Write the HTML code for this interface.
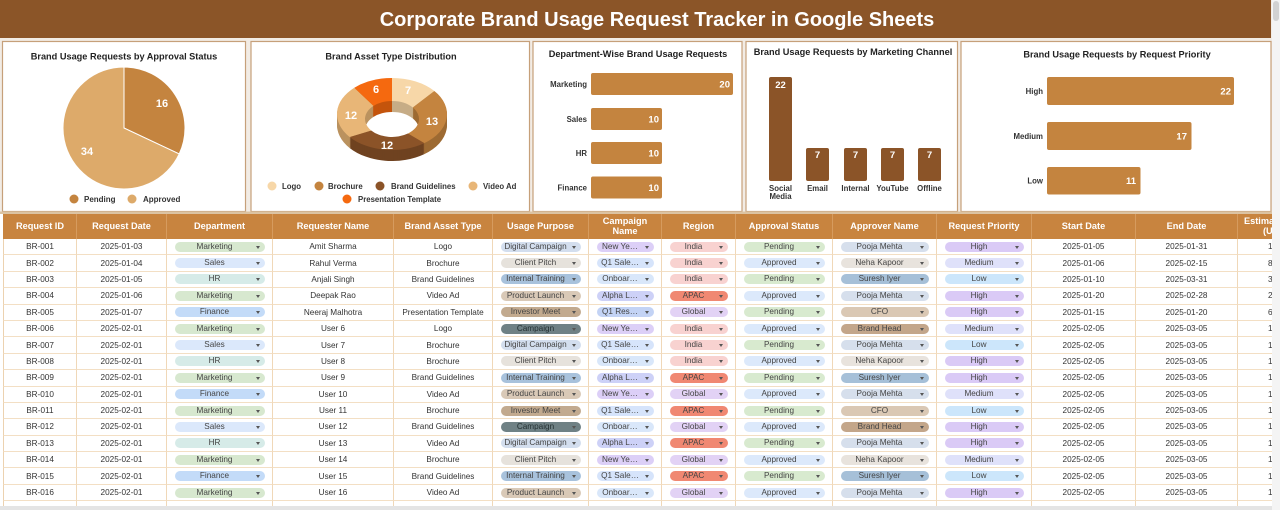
<!DOCTYPE html>
<html><head><meta charset="utf-8">
<style>
body{margin:0;width:1280px;height:510px;overflow:hidden;background:#fff;font-family:"Liberation Sans",Arial,sans-serif;position:relative}
svg.top{position:absolute;left:0;top:0}
.tbl{position:absolute;left:3px;top:214px;width:1269px;height:292px;overflow:hidden;background:#fff}
.r{display:flex;height:16.4px}
.r>div{flex:none;box-sizing:border-box;border-right:1px solid #f0d8b8;border-bottom:1px solid #f3dfc4;display:flex;align-items:center;justify-content:center;font-size:8.2px;color:#333;white-space:nowrap;overflow:hidden}
.r>div:nth-child(1){width:74px;border-left:1px solid #ecd2b0}
.r>div:nth-child(2){width:90px}
.r>div:nth-child(3){width:106px}
.r>div:nth-child(4){width:121px}
.r>div:nth-child(5){width:99px}
.r>div:nth-child(6){width:96px}
.r>div:nth-child(7){width:73px}
.r>div:nth-child(8){width:74px}
.r>div:nth-child(9){width:97px}
.r>div:nth-child(10){width:104px}
.r>div:nth-child(11){width:95px}
.r>div:nth-child(12){width:104px}
.r>div:nth-child(13){width:102px}
.r>div:nth-child(14){width:100px}
.r.h{height:25px;background:#C8843F}
.r.h>div{color:#fff;font-weight:bold;font-size:9.2px;border-right:1px solid #d69b5e;border-bottom:none;text-align:center;line-height:9.6px;border-left-color:#C8843F}
.r>div.e{justify-content:flex-start;padding-left:30px}
.r.h>div.eh{justify-content:flex-start;padding-left:6px;text-align:left}
.p{display:block;position:relative;width:calc(100% - 15px);height:10px;border-radius:5px;line-height:10px;text-align:center;padding-right:10px;box-sizing:border-box;color:#444;font-size:8.2px;overflow:hidden}
.p::after{content:"";position:absolute;right:5px;top:4px;border-left:2.5px solid transparent;border-right:2.5px solid transparent;border-top:3px solid #555}
.mk{background:#d7e8cf}.sa{background:#dbe8fb}.hr{background:#d6ebe8}.fi{background:#c3dbf8}
.dc{background:#d3deee}.cp{background:#e6e2dc}.it{background:#a8c2dc}.pl{background:#d9c9b7}.im{background:#c2aa8f}.ca{background:#6f8185;color:#233032}
.ny{background:#dccff7}.qs{background:#d6e4fb}.on{background:#d9e7fa}.al{background:#cdd1f7}.qr{background:#c3d3f5}
.in{background:#f8d2d0}.ap{background:#f08872}.gl{background:#e2d2f5}
.pe{background:#d8eacf}.ad{background:#dce9fb}
.pm{background:#d6dfec}.nk{background:#e8e3dd}.si{background:#a6c0d8}.cf{background:#dac8b4}.bh{background:#c3a68a}
.hi{background:#dacaf6}.me{background:#dfe1fa}.lo{background:#cce6fb}
.vs{position:absolute;left:1272px;top:0;width:8px;height:510px;background:#f4f4f4}
.vt{position:absolute;left:1273px;top:1px;width:6px;height:20px;border-radius:3px;background:#d2d2d2}
.hs{position:absolute;left:0;top:506px;width:1272px;height:4px;background:#e4e4e4}
</style></head><body>
<svg class="top" width="1280" height="214" viewBox="0 0 1280 214" font-family="'Liberation Sans', Arial, sans-serif">
<defs>
<filter id="dk" color-interpolation-filters="sRGB"><feColorMatrix type="matrix" values="0.8 0 0 0 0 0 0.8 0 0 0 0 0 0.8 0 0 0 0 0 1 0"/></filter>
<g id="ring">
<path d="M392,78 A55,36 0 0 1 434.38,91.05 L412.80,107.53 A27,18 0 0 0 392,101 Z" fill="#F7D7A8"/>
<path d="M434.38,91.05 A55,36 0 0 1 424.33,143.12 L407.87,133.56 A27,18 0 0 0 412.80,107.53 Z" fill="#C4843F"/>
<path d="M424.33,143.12 A55,36 0 0 1 349.62,136.95 L371.20,130.47 A27,18 0 0 0 407.87,133.56 Z" fill="#8B5328"/>
<path d="M349.62,136.95 A55,36 0 0 1 354.35,87.76 L373.52,105.88 A27,18 0 0 0 371.20,130.47 Z" fill="#E8B677"/>
<path d="M354.35,87.76 A55,36 0 0 1 392,78 L392,101 A27,18 0 0 0 373.52,105.88 Z" fill="#F5690F"/>
</g>
</defs>
<rect width="1280" height="214" fill="#f2ece5"/>
<rect x="0" y="0" width="1271" height="38" fill="#8B5528"/>
<text x="657" y="26" text-anchor="middle" font-size="20" font-weight="bold" fill="#fff">Corporate Brand Usage Request Tracker in Google Sheets</text>
<g fill="#fff" stroke="#c6a07a" stroke-width="1.2">
<rect x="2.5" y="41.5" width="243" height="170"/>
<rect x="251" y="41.5" width="278.5" height="170"/>
<rect x="533" y="41.5" width="209" height="170"/>
<rect x="746" y="41.5" width="211.5" height="170"/>
<rect x="961" y="41.5" width="310" height="170"/>
</g>
<rect x="0" y="211.5" width="1272" height="2.5" fill="#dcc3a2"/>
<g font-size="9.2" font-weight="bold" fill="#222" text-anchor="middle">
<text x="124" y="59.3">Brand Usage Requests by Approval Status</text>
<text x="391" y="59.3">Brand Asset Type Distribution</text>
<text x="638" y="57">Department-Wise Brand Usage Requests</text>
<text x="853" y="55">Brand Usage Requests by Marketing Channel</text>
<text x="1117" y="57.3">Brand Usage Requests by Request Priority</text>
</g>
<!-- Pie -->
<path d="M124,128 L124,67 A61,61 0 0 1 179.19,153.97 Z" fill="#C4843F" stroke="#fff" stroke-width="1"/>
<path d="M124,128 L179.19,153.97 A61,61 0 1 1 124,67 Z" fill="#DDAA6A" stroke="#fff" stroke-width="1"/>
<g font-size="11" font-weight="bold" fill="#fff" text-anchor="middle">
<text x="162" y="107">16</text><text x="87" y="155">34</text>
</g>
<circle cx="74" cy="199" r="4.5" fill="#C4843F"/>
<circle cx="132" cy="199" r="4.5" fill="#DDAA6A"/>
<g font-size="8" font-weight="bold" fill="#333">
<text x="84" y="201.8">Pending</text><text x="143" y="201.8">Approved</text>
</g>
<!-- Donut -->
<g filter="url(#dk)">
<use href="#ring" y="11"/><use href="#ring" y="10"/><use href="#ring" y="9"/><use href="#ring" y="8"/><use href="#ring" y="7"/><use href="#ring" y="6"/><use href="#ring" y="5"/><use href="#ring" y="4"/><use href="#ring" y="3"/><use href="#ring" y="2"/><use href="#ring" y="1"/>
</g>
<use href="#ring"/>
<g font-size="11" font-weight="bold" fill="#fff" text-anchor="middle">
<text x="408" y="94">7</text><text x="432" y="125">13</text><text x="387" y="149">12</text><text x="351" y="119">12</text><text x="376" y="93">6</text>
</g>
<circle cx="272" cy="186" r="4.5" fill="#F7D7A8"/>
<circle cx="319" cy="186" r="4.5" fill="#C4843F"/>
<circle cx="380" cy="186" r="4.5" fill="#8B5328"/>
<circle cx="473" cy="186" r="4.5" fill="#E8B677"/>
<circle cx="347" cy="199" r="4.5" fill="#F5690F"/>
<g font-size="7.8" font-weight="bold" fill="#333">
<text x="282" y="188.8">Logo</text><text x="328" y="188.8">Brochure</text><text x="391" y="188.8">Brand Guidelines</text><text x="483" y="188.8">Video Ad</text><text x="358" y="201.8">Presentation Template</text>
</g>
<!-- Department bars -->
<g fill="#C4843F">
<rect x="591" y="73" width="142" height="22" rx="2"/>
<rect x="591" y="108" width="71" height="22" rx="2"/>
<rect x="591" y="142" width="71" height="22" rx="2"/>
<rect x="591" y="176.5" width="71" height="22" rx="2"/>
</g>
<g font-size="7.8" font-weight="bold" fill="#333" text-anchor="end">
<text x="587" y="86.8">Marketing</text><text x="587" y="121.8">Sales</text><text x="587" y="155.8">HR</text><text x="587" y="190.3">Finance</text>
</g>
<g font-size="9.5" font-weight="bold" fill="#fff" text-anchor="end">
<text x="730" y="87.4">20</text><text x="659" y="122.4">10</text><text x="659" y="156.4">10</text><text x="659" y="190.9">10</text>
</g>
<!-- Channel columns -->
<g fill="#8B5428">
<rect x="769" y="77" width="23" height="104" rx="2"/>
<rect x="806" y="148" width="23" height="33" rx="2"/>
<rect x="844" y="148" width="23" height="33" rx="2"/>
<rect x="881" y="148" width="23" height="33" rx="2"/>
<rect x="918" y="148" width="23" height="33" rx="2"/>
</g>
<g font-size="9.5" font-weight="bold" fill="#fff" text-anchor="middle">
<text x="780.5" y="88">22</text><text x="817.5" y="158">7</text><text x="855.5" y="158">7</text><text x="892.5" y="158">7</text><text x="929.5" y="158">7</text>
</g>
<g font-size="7.8" font-weight="bold" fill="#333" text-anchor="middle">
<text x="780.5" y="191">Social</text><text x="780.5" y="199">Media</text><text x="817.5" y="191">Email</text><text x="855.5" y="191">Internal</text><text x="892.5" y="191">YouTube</text><text x="929.5" y="191">Offline</text>
</g>
<!-- Priority bars -->
<g fill="#C4843F">
<rect x="1047" y="77" width="187" height="28" rx="2"/>
<rect x="1047" y="122" width="144.5" height="28" rx="2"/>
<rect x="1047" y="167" width="93.5" height="27.5" rx="2"/>
</g>
<g font-size="7.8" font-weight="bold" fill="#333" text-anchor="end">
<text x="1043" y="93.8">High</text><text x="1043" y="138.8">Medium</text><text x="1043" y="183.5">Low</text>
</g>
<g font-size="9.5" font-weight="bold" fill="#fff" text-anchor="end">
<text x="1231" y="94.4">22</text><text x="1187" y="139.4">17</text><text x="1136" y="184">11</text>
</g>
</svg>

<div class="tbl">
<div class="r h"><div>Request ID</div><div>Request Date</div><div>Department</div><div>Requester Name</div><div>Brand Asset Type</div><div>Usage Purpose</div><div>Campaign<br>Name</div><div>Region</div><div>Approval Status</div><div>Approver Name</div><div>Request Priority</div><div>Start Date</div><div>End Date</div><div class="eh"><span>Estimated<br><span style="padding-left:19px">(USD)</span></span></div></div>

<div class="r"><div>BR-001</div><div>2025-01-03</div><div><span class="p mk">Marketing</span></div><div>Amit Sharma</div><div>Logo</div><div><span class="p dc">Digital Campaign</span></div><div><span class="p ny">New Ye…</span></div><div><span class="p in">India</span></div><div><span class="p pe">Pending</span></div><div><span class="p pm">Pooja Mehta</span></div><div><span class="p hi">High</span></div><div>2025-01-05</div><div>2025-01-31</div><div class="e">15000</div></div>
<div class="r"><div>BR-002</div><div>2025-01-04</div><div><span class="p sa">Sales</span></div><div>Rahul Verma</div><div>Brochure</div><div><span class="p cp">Client Pitch</span></div><div><span class="p qs">Q1 Sale…</span></div><div><span class="p in">India</span></div><div><span class="p ad">Approved</span></div><div><span class="p nk">Neha Kapoor</span></div><div><span class="p me">Medium</span></div><div>2025-01-06</div><div>2025-02-15</div><div class="e">8000</div></div>
<div class="r"><div>BR-003</div><div>2025-01-05</div><div><span class="p hr">HR</span></div><div>Anjali Singh</div><div>Brand Guidelines</div><div><span class="p it">Internal Training</span></div><div><span class="p on">Onboar…</span></div><div><span class="p in">India</span></div><div><span class="p pe">Pending</span></div><div><span class="p si">Suresh Iyer</span></div><div><span class="p lo">Low</span></div><div>2025-01-10</div><div>2025-03-31</div><div class="e">3000</div></div>
<div class="r"><div>BR-004</div><div>2025-01-06</div><div><span class="p mk">Marketing</span></div><div>Deepak Rao</div><div>Video Ad</div><div><span class="p pl">Product Launch</span></div><div><span class="p al">Alpha L…</span></div><div><span class="p ap">APAC</span></div><div><span class="p ad">Approved</span></div><div><span class="p pm">Pooja Mehta</span></div><div><span class="p hi">High</span></div><div>2025-01-20</div><div>2025-02-28</div><div class="e">25000</div></div>
<div class="r"><div>BR-005</div><div>2025-01-07</div><div><span class="p fi">Finance</span></div><div>Neeraj Malhotra</div><div>Presentation Template</div><div><span class="p im">Investor Meet</span></div><div><span class="p qr">Q1 Res…</span></div><div><span class="p gl">Global</span></div><div><span class="p pe">Pending</span></div><div><span class="p cf">CFO</span></div><div><span class="p hi">High</span></div><div>2025-01-15</div><div>2025-01-20</div><div class="e">6000</div></div>
<div class="r"><div>BR-006</div><div>2025-02-01</div><div><span class="p mk">Marketing</span></div><div>User 6</div><div>Logo</div><div><span class="p ca">Campaign</span></div><div><span class="p ny">New Ye…</span></div><div><span class="p in">India</span></div><div><span class="p ad">Approved</span></div><div><span class="p bh">Brand Head</span></div><div><span class="p me">Medium</span></div><div>2025-02-05</div><div>2025-03-05</div><div class="e">10000</div></div>
<div class="r"><div>BR-007</div><div>2025-02-01</div><div><span class="p sa">Sales</span></div><div>User 7</div><div>Brochure</div><div><span class="p dc">Digital Campaign</span></div><div><span class="p qs">Q1 Sale…</span></div><div><span class="p in">India</span></div><div><span class="p pe">Pending</span></div><div><span class="p pm">Pooja Mehta</span></div><div><span class="p lo">Low</span></div><div>2025-02-05</div><div>2025-03-05</div><div class="e">10000</div></div>
<div class="r"><div>BR-008</div><div>2025-02-01</div><div><span class="p hr">HR</span></div><div>User 8</div><div>Brochure</div><div><span class="p cp">Client Pitch</span></div><div><span class="p on">Onboar…</span></div><div><span class="p in">India</span></div><div><span class="p ad">Approved</span></div><div><span class="p nk">Neha Kapoor</span></div><div><span class="p hi">High</span></div><div>2025-02-05</div><div>2025-03-05</div><div class="e">10000</div></div>
<div class="r"><div>BR-009</div><div>2025-02-01</div><div><span class="p mk">Marketing</span></div><div>User 9</div><div>Brand Guidelines</div><div><span class="p it">Internal Training</span></div><div><span class="p al">Alpha L…</span></div><div><span class="p ap">APAC</span></div><div><span class="p pe">Pending</span></div><div><span class="p si">Suresh Iyer</span></div><div><span class="p hi">High</span></div><div>2025-02-05</div><div>2025-03-05</div><div class="e">10000</div></div>
<div class="r"><div>BR-010</div><div>2025-02-01</div><div><span class="p fi">Finance</span></div><div>User 10</div><div>Video Ad</div><div><span class="p pl">Product Launch</span></div><div><span class="p ny">New Ye…</span></div><div><span class="p gl">Global</span></div><div><span class="p ad">Approved</span></div><div><span class="p pm">Pooja Mehta</span></div><div><span class="p me">Medium</span></div><div>2025-02-05</div><div>2025-03-05</div><div class="e">10000</div></div>
<div class="r"><div>BR-011</div><div>2025-02-01</div><div><span class="p mk">Marketing</span></div><div>User 11</div><div>Brochure</div><div><span class="p im">Investor Meet</span></div><div><span class="p qs">Q1 Sale…</span></div><div><span class="p ap">APAC</span></div><div><span class="p pe">Pending</span></div><div><span class="p cf">CFO</span></div><div><span class="p lo">Low</span></div><div>2025-02-05</div><div>2025-03-05</div><div class="e">10000</div></div>
<div class="r"><div>BR-012</div><div>2025-02-01</div><div><span class="p sa">Sales</span></div><div>User 12</div><div>Brand Guidelines</div><div><span class="p ca">Campaign</span></div><div><span class="p on">Onboar…</span></div><div><span class="p gl">Global</span></div><div><span class="p ad">Approved</span></div><div><span class="p bh">Brand Head</span></div><div><span class="p hi">High</span></div><div>2025-02-05</div><div>2025-03-05</div><div class="e">10000</div></div>
<div class="r"><div>BR-013</div><div>2025-02-01</div><div><span class="p hr">HR</span></div><div>User 13</div><div>Video Ad</div><div><span class="p dc">Digital Campaign</span></div><div><span class="p al">Alpha L…</span></div><div><span class="p ap">APAC</span></div><div><span class="p pe">Pending</span></div><div><span class="p pm">Pooja Mehta</span></div><div><span class="p hi">High</span></div><div>2025-02-05</div><div>2025-03-05</div><div class="e">10000</div></div>
<div class="r"><div>BR-014</div><div>2025-02-01</div><div><span class="p mk">Marketing</span></div><div>User 14</div><div>Brochure</div><div><span class="p cp">Client Pitch</span></div><div><span class="p ny">New Ye…</span></div><div><span class="p gl">Global</span></div><div><span class="p ad">Approved</span></div><div><span class="p nk">Neha Kapoor</span></div><div><span class="p me">Medium</span></div><div>2025-02-05</div><div>2025-03-05</div><div class="e">10000</div></div>
<div class="r"><div>BR-015</div><div>2025-02-01</div><div><span class="p fi">Finance</span></div><div>User 15</div><div>Brand Guidelines</div><div><span class="p it">Internal Training</span></div><div><span class="p qs">Q1 Sale…</span></div><div><span class="p ap">APAC</span></div><div><span class="p pe">Pending</span></div><div><span class="p si">Suresh Iyer</span></div><div><span class="p lo">Low</span></div><div>2025-02-05</div><div>2025-03-05</div><div class="e">10000</div></div>
<div class="r"><div>BR-016</div><div>2025-02-01</div><div><span class="p mk">Marketing</span></div><div>User 16</div><div>Video Ad</div><div><span class="p pl">Product Launch</span></div><div><span class="p on">Onboar…</span></div><div><span class="p gl">Global</span></div><div><span class="p ad">Approved</span></div><div><span class="p pm">Pooja Mehta</span></div><div><span class="p hi">High</span></div><div>2025-02-05</div><div>2025-03-05</div><div class="e">10000</div></div>
<div class="r"><div></div><div></div><div></div><div></div><div></div><div></div><div></div><div></div><div></div><div></div><div></div><div></div><div></div><div></div></div>
</div>
<div class="vs"></div><div class="vt"></div>
<div class="hs"></div>
</body></html>
